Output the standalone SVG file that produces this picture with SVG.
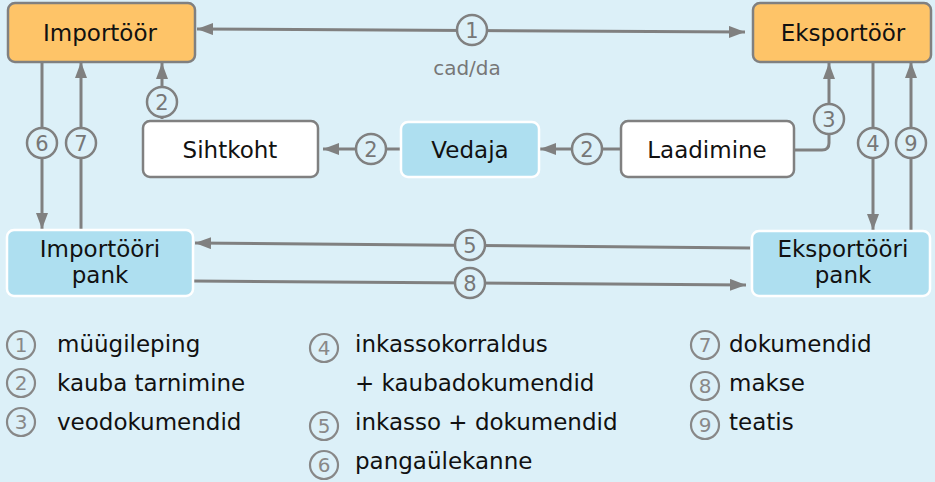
<svg xmlns="http://www.w3.org/2000/svg" width="935" height="482" viewBox="0 0 935 482">
<style>
.bg{fill:#dcf0f8}
.orange{fill:#fec468;stroke:#808080;stroke-width:2.5}
.white{fill:#ffffff;stroke:#808080;stroke-width:2.5}
.blue{fill:#aedff0;stroke:#ffffff;stroke-width:2.5}
.lbl{font-family:"DejaVu Sans",Verdana,sans-serif;font-size:23px;fill:#111;text-anchor:middle}
.conn{stroke:#808080;stroke-width:3;fill:none}
.num{fill:#dcf0f8;stroke:#808080;stroke-width:2.5}
.numt{font-family:"DejaVu Sans",Verdana,sans-serif;font-size:21px;fill:#777;text-anchor:middle}
.cad{font-family:"DejaVu Sans",Verdana,sans-serif;font-size:20px;fill:#777;text-anchor:middle}
.leg{font-family:"DejaVu Sans",Verdana,sans-serif;font-size:23px;fill:#111}
.lnum{fill:none;stroke:#888;stroke-width:2.2}
.lnumt{font-family:"DejaVu Sans",Verdana,sans-serif;font-size:20px;fill:#888;text-anchor:middle}
</style>
<defs>
<marker id="ah" markerUnits="userSpaceOnUse" markerWidth="16" markerHeight="12" refX="16" refY="6" orient="auto-start-reverse">
<path d="M0,0 L16,6 L0,12 Z" fill="#808080"/>
</marker>
</defs>
<rect class="bg" x="0" y="0" width="935" height="482"/>

<g id="connectors">
<line class="conn" x1="745" y1="32" x2="197" y2="29" marker-start="url(#ah)" marker-end="url(#ah)"/>
<line class="conn" x1="162" y1="119" x2="162" y2="63" marker-end="url(#ah)"/>
<line class="conn" x1="401" y1="149" x2="323" y2="149" marker-end="url(#ah)"/>
<line class="conn" x1="620" y1="149" x2="540" y2="149" marker-end="url(#ah)"/>
<path class="conn" d="M795,150 H822 Q829,150 829,143 V63" marker-end="url(#ah)"/>
<line class="conn" x1="873" y1="62" x2="873" y2="230" marker-end="url(#ah)"/>
<line class="conn" x1="911" y1="230" x2="911" y2="62" marker-end="url(#ah)"/>
<line class="conn" x1="42" y1="62" x2="42" y2="229" marker-end="url(#ah)"/>
<line class="conn" x1="81" y1="230" x2="81" y2="62" marker-end="url(#ah)"/>
<line class="conn" x1="750" y1="248" x2="195" y2="243" marker-end="url(#ah)"/>
<line class="conn" x1="193" y1="281" x2="746" y2="285" marker-end="url(#ah)"/>

<circle class="num" cx="472" cy="30" r="15"/><text class="numt" x="472" y="37.5">1</text>
<circle class="num" cx="162" cy="102" r="15"/><text class="numt" x="162" y="109.5">2</text>
<circle class="num" cx="371" cy="149" r="15"/><text class="numt" x="371" y="156.5">2</text>
<circle class="num" cx="587" cy="149" r="15"/><text class="numt" x="587" y="156.5">2</text>
<circle class="num" cx="829" cy="119" r="15"/><text class="numt" x="829" y="126.5">3</text>
<circle class="num" cx="873" cy="143" r="15"/><text class="numt" x="873" y="150.5">4</text>
<circle class="num" cx="911" cy="143" r="15"/><text class="numt" x="911" y="150.5">9</text>
<circle class="num" cx="42" cy="143" r="15"/><text class="numt" x="42" y="150.5">6</text>
<circle class="num" cx="81" cy="143" r="15"/><text class="numt" x="81" y="150.5">7</text>
<circle class="num" cx="470" cy="245" r="15"/><text class="numt" x="470" y="252.5">5</text>
<circle class="num" cx="470" cy="283" r="15"/><text class="numt" x="470" y="290.5">8</text>
<text class="cad" x="467" y="75">cad/da</text>
</g>

<g id="importoor"><rect class="orange" x="8" y="3" width="187" height="59" rx="7"/><text class="lbl" x="100" y="41">Importöör</text></g>
<g id="eksportoor"><rect class="orange" x="753" y="3" width="178" height="59" rx="7"/><text class="lbl" x="843" y="41">Eksportöör</text></g>
<g id="sihtkoht"><rect class="white" x="143" y="121" width="175" height="56" rx="7"/><text class="lbl" x="230" y="158">Sihtkoht</text></g>
<g id="vedaja"><rect class="blue" x="401" y="122" width="138" height="55" rx="7"/><text class="lbl" x="470" y="158">Vedaja</text></g>
<g id="laadimine"><rect class="white" x="621" y="121" width="173" height="56" rx="7"/><text class="lbl" x="707" y="158">Laadimine</text></g>
<g id="importoori-pank"><rect class="blue" x="7" y="230" width="186" height="66" rx="7"/><text class="lbl" x="100" y="257">Importööri</text><text class="lbl" x="100" y="283">pank</text></g>
<g id="eksportoori-pank"><rect class="blue" x="752" y="231" width="178" height="65" rx="7"/><text class="lbl" x="843" y="257">Eksportööri</text><text class="lbl" x="843" y="283">pank</text></g>

<g id="legend">
<circle class="lnum" cx="21" cy="345" r="14"/><text class="lnumt" x="21" y="352">1</text><text class="leg" x="57" y="352">müügileping</text>
<circle class="lnum" cx="21" cy="383" r="14"/><text class="lnumt" x="21" y="390">2</text><text class="leg" x="57" y="391">kauba tarnimine</text>
<circle class="lnum" cx="21" cy="422" r="14"/><text class="lnumt" x="21" y="429">3</text><text class="leg" x="57" y="430">veodokumendid</text>
<circle class="lnum" cx="324" cy="348" r="14"/><text class="lnumt" x="324" y="355">4</text><text class="leg" x="355" y="352">inkassokorraldus</text>
<text class="leg" x="355" y="391">+ kaubadokumendid</text>
<circle class="lnum" cx="324" cy="426" r="14"/><text class="lnumt" x="324" y="433">5</text><text class="leg" x="355" y="430">inkasso + dokumendid</text>
<circle class="lnum" cx="324" cy="465" r="14"/><text class="lnumt" x="324" y="472">6</text><text class="leg" x="355" y="469">pangaülekanne</text>
<circle class="lnum" cx="705" cy="345" r="14"/><text class="lnumt" x="705" y="352">7</text><text class="leg" x="729" y="352">dokumendid</text>
<circle class="lnum" cx="705" cy="386" r="14"/><text class="lnumt" x="705" y="393">8</text><text class="leg" x="729" y="391">makse</text>
<circle class="lnum" cx="705" cy="425" r="14"/><text class="lnumt" x="705" y="432">9</text><text class="leg" x="729" y="430">teatis</text>
</g>
</svg>
